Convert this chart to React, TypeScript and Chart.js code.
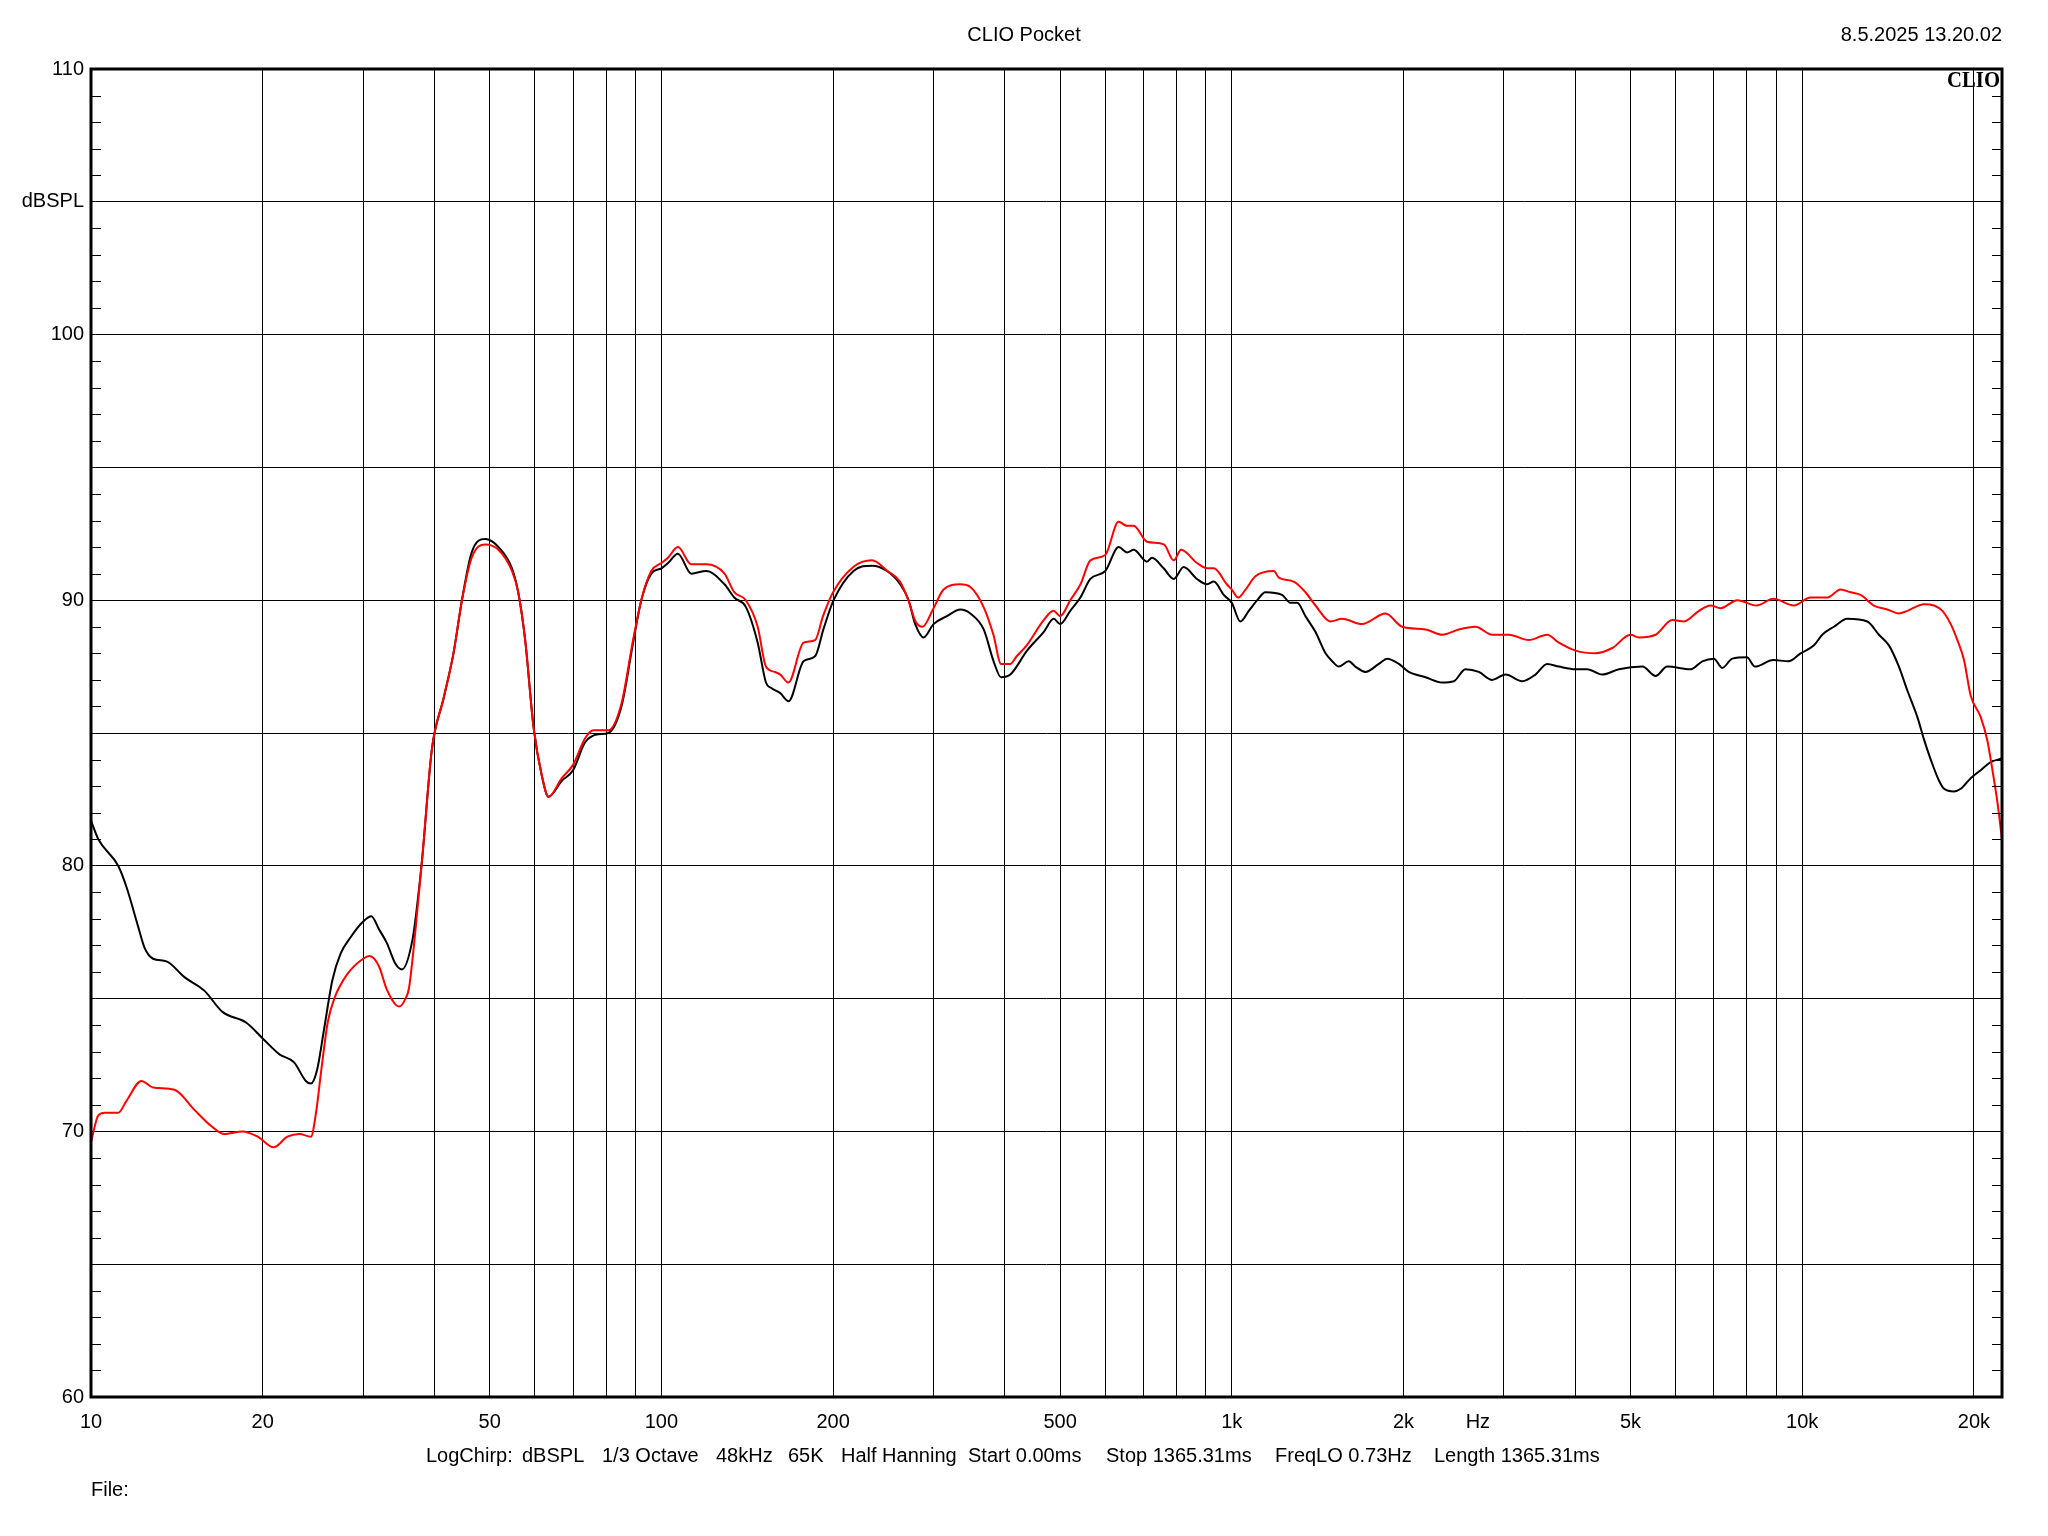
import React, { useEffect, useRef } from "react";
import { Chart, registerables } from "chart.js";

Chart.register(...registerables);

// ---------------- data ----------------
const BLACK_FREQ = [
  10, 10.3, 11.16, 11.54, 12.1, 12.42, 12.85, 13.56, 14.6, 15.8, 17.0, 18.7, 20, 21.4, 22.7, 23.8, 24.3, 24.9,
  25.6, 26.5, 27.4, 28.5, 30, 31.0, 32.0, 33.0, 34.2, 35.1, 36.6, 37.3, 38.1, 39.6, 41.5, 43.2, 44.7, 46.5,
  49.1, 51.8, 54.7, 56.1, 57.7, 59.7, 61.7, 63.4, 66.9, 70, 73.5, 77.5, 80.7, 85.1, 89.2, 92.2, 96, 100,
  102.7, 106.9, 112.8, 119.8, 129, 134.2, 140.6, 147.5, 152.5, 155.6, 161.6, 167.1, 177.5, 186.1, 192.3,
  200.4, 217.2, 234, 248.6, 262.2, 271.2, 278.6, 288.2, 300, 316.7, 334.2, 348, 367.3, 382.3, 393.9, 409,
  437.5, 467.8, 487.3, 500, 521, 542.7, 564.9, 600, 633.5, 655.3, 673, 710, 724.5, 759.5, 791, 823.5, 869,
  905, 930, 967.8, 1000, 1035, 1071, 1108, 1145, 1225, 1267, 1302, 1346, 1402, 1460, 1500, 1540, 1603,
  1647, 1715, 1810, 1873, 1963, 2043, 2185, 2338, 2451, 2568, 2710, 2861, 3019, 3229, 3407, 3572, 3745,
  4006, 4198, 4461, 4771, 5245, 5534, 5800, 6374, 6682, 7000, 7240, 7541, 8000, 8263, 8899, 9454, 9935,
  10485, 10842, 11365, 11995, 13004, 13630, 14191, 14774, 15288, 15918, 16352, 16800, 17374, 17729, 18460,
  18964, 19743, 20558, 21404, 22440,
];
const BLACK_DB = [
  81.7, 81.0, 80.0, 79.2, 77.7, 76.9, 76.5, 76.4, 75.8, 75.3, 74.5, 74.1, 73.5, 72.9, 72.6, 71.9, 71.8, 72.3,
  73.8, 75.7, 76.7, 77.3, 77.9, 78.1, 77.6, 77.1, 76.3, 76.1, 77.2, 78.5, 80.35, 84.4, 86.3, 88.0, 90.0, 91.8,
  92.3, 92.0, 91.2, 90.3, 88.5, 85.2, 83.4, 82.6, 83.2, 83.6, 84.65, 84.95, 85.0, 86.0, 88.4, 90.0, 91.0, 91.2,
  91.4, 91.75, 91.0, 91.1, 90.6, 90.1, 89.75, 88.4, 86.9, 86.7, 86.5, 86.2, 87.7, 87.9, 88.9,
  90.0, 91.1, 91.3, 91.1, 90.6, 90.0, 89.1, 88.6, 89.1, 89.4, 89.65, 89.5, 88.9, 87.7, 87.1, 87.2,
  88.1, 88.8, 89.3, 89.1, 89.6, 90.1, 90.8, 91.1, 92.0, 91.8, 91.9, 91.45, 91.6, 91.2, 90.8, 91.25, 90.8,
  90.6, 90.7, 90.2, 89.9, 89.2, 89.6, 90.0, 90.3, 90.2, 89.9, 89.9, 89.4, 88.8, 88.0, 87.7, 87.5, 87.7,
  87.5, 87.3, 87.6, 87.8, 87.6, 87.3, 87.1, 86.9, 86.95, 87.4, 87.3, 87.0, 87.2, 86.95, 87.2, 87.6, 87.5,
  87.4, 87.4, 87.2, 87.4, 87.5, 87.15, 87.5, 87.4, 87.7, 87.8, 87.45, 87.8, 87.85, 87.5, 87.75, 87.7, 88.0,
  88.3, 88.7, 89.0, 89.3, 89.2, 88.7, 88.3, 87.5, 86.6, 85.6, 84.75, 84.0, 83.2, 82.9, 82.8,
  82.9, 83.3, 83.6, 83.9, 84.05,
];

const RED_FREQ = [
  10, 10.3, 10.58, 11.16, 11.54, 12.26, 12.85, 14.0, 15.2, 16.25, 17.1, 18.45, 19.6, 20.9, 22.1, 23.2, 24.3,
  24.8, 25.3, 26.0, 26.7, 28.1, 30, 30.8, 32.0, 33.0, 34.7, 35.6, 36.1, 37.1, 38.1, 39.6, 41.5, 43.2, 44.7,
  46.5, 49.1, 51.8, 54.7, 56.1, 57.7, 59.7, 61.7, 63.4, 66.9, 70, 73.5, 76, 80.7, 85.1, 89.2, 92.2, 96, 100,
  102.7, 106.9, 112.8, 119.8, 129, 134.2, 140.6, 147.5, 152.5, 158, 161.6, 167, 177.5, 186, 192, 200, 217,
  234, 249, 262, 271, 279, 287, 300, 312.4, 334, 348, 367, 382, 394, 409, 420, 437, 468, 487, 500, 521, 543,
  565, 600, 633, 655, 673, 710, 760, 791, 815, 869, 905, 930, 980, 1000, 1026, 1057, 1100, 1185, 1209, 1284,
  1346, 1402, 1489, 1561, 1692, 1860, 1989, 2185, 2338, 2500, 2674, 2861, 3060, 3316, 3572, 3745, 4006,
  4341, 4645, 5000, 5174, 5534, 5918, 6204, 6592, 6908, 7195, 7694, 8318, 8899, 9668, 10342, 11066, 11676,
  12154, 12656, 13357, 14099, 14774, 15288, 16352, 17022, 17609, 18213, 18706, 19214, 19743, 20558, 21121,
  21553, 21988, 22400,
];
const RED_DB = [
  69.6, 70.6, 70.7, 70.7, 71.15, 71.9, 71.65, 71.57, 70.8, 70.2, 69.9, 70.0, 69.8, 69.4, 69.8, 69.9, 69.8,
  70.7, 72.2, 74.1, 75.0, 75.9, 76.5, 76.6, 76.2, 75.35, 74.7, 75.0, 75.4, 77.7, 80.35, 84.4, 86.3, 88.0, 90.0,
  91.6, 92.1, 91.9, 91.1, 90.3, 88.5, 85.2, 83.4, 82.6, 83.3, 83.8, 84.8, 85.1, 85.1, 86.1, 88.5, 90.0, 91.1, 91.4,
  91.6, 92.0, 91.35, 91.35, 91.0, 90.3, 90.0, 89.0, 87.5, 87.3, 87.2, 86.9, 88.4, 88.5, 89.4, 90.3, 91.25,
  91.5, 91.1, 90.7, 90.0, 89.2, 89.0, 89.7, 90.4, 90.6, 90.5, 89.75, 88.7, 87.6, 87.6, 87.9, 88.3, 89.25, 89.6, 89.4, 90.0, 90.6,
  91.5, 91.7, 92.95, 92.8, 92.8, 92.2, 92.1, 91.5, 91.9, 91.4, 91.2, 91.2, 90.6, 90.4, 90.1, 90.4, 90.9, 91.1, 90.85, 90.7,
  90.3, 89.8, 89.2, 89.3, 89.1, 89.5, 89.0, 88.9, 88.7, 88.9, 89.0, 88.7, 88.7, 88.5, 88.7, 88.4, 88.1,
  88.0, 88.2, 88.7, 88.6, 88.7, 89.25, 89.2, 89.6, 89.8, 89.7, 90.0, 89.8, 90.05, 89.8, 90.1, 90.1, 90.4,
  90.3, 90.2, 89.8, 89.65, 89.5, 89.6, 89.85, 89.8, 89.6, 89.1, 88.5, 87.75, 86.4, 85.6, 84.7,
  83.6, 82.4, 81.0,
];

// axes
const X_MIN = 10;
const X_MAX = 22400;
const Y_MIN = 60;
const Y_MAX = 110;
const X_GRID = [
  10, 20, 30, 40, 50, 60, 70, 80, 90, 100, 200, 300, 400, 500, 600, 700, 800, 900, 1000, 2000, 3000, 4000,
  5000, 6000, 7000, 8000, 9000, 10000, 20000,
];
const X_LABEL_VALUES = [10, 20, 50, 100, 200, 500, 1000, 2000, 2700, 5000, 10000, 20000];
const X_LABEL_TEXT = ["10", "20", "50", "100", "200", "500", "1k", "2k", "Hz", "5k", "10k", "20k"];
const HZ_POSITION = 2700;
const Y_GRID = [60, 65, 70, 75, 80, 85, 90, 95, 100, 105, 110];
const Y_LABEL_VALUES = [60, 70, 80, 90, 100, 105, 110];
const Y_LABEL_TEXT = ["60", "70", "80", "90", "100", "dBSPL", "110"];

const TITLE = "CLIO Pocket";
const DATE_TEXT = "8.5.2025 13.20.02";
const BRAND = "CLIO";
const INFO_SEGMENTS = [
  "LogChirp:",
  "dBSPL",
  "1/3 Octave",
  "48kHz",
  "65K",
  "Half Hanning",
  "Start 0.00ms",
  "Stop 1365.31ms",
  "FreqLO 0.73Hz",
  "Length 1365.31ms",
];
const INFO_X = [426, 522, 602, 716, 788, 841, 968, 1106, 1275, 1434];
const FILE_TEXT = "File:";

const FONT = "'Liberation Sans', Arial, sans-serif";

const toPoints = (fs: number[], ds: number[]) => fs.map((f, i) => ({ x: f, y: ds[i] }));

export default function App() {
  const ref = useRef<HTMLCanvasElement | null>(null);

  useEffect(() => {
    document.body.style.margin = "0";
    const canvas = ref.current;
    if (!canvas) return;

    const xLabelMap: Record<number, string> = {};
    X_LABEL_VALUES.forEach((v, i) => (xLabelMap[v] = X_LABEL_TEXT[i]));
    const yLabelMap: Record<number, string> = {};
    Y_LABEL_VALUES.forEach((v, i) => (yLabelMap[v] = Y_LABEL_TEXT[i]));

    const decor = {
      id: "decor",
      afterDatasetsDraw(chart: any) {
        const { ctx, chartArea, scales } = chart;
        const { left, right, top, bottom } = chartArea;
        ctx.save();
        // minor 1 dB ticks on both sides
        ctx.strokeStyle = "#000";
        ctx.lineWidth = 1;
        for (let v = Y_MIN; v <= Y_MAX; v++) {
          if (v % 5 === 0) continue;
          const y = Math.round(scales.y.getPixelForValue(v)) + 0.5;
          ctx.beginPath();
          ctx.moveTo(left, y);
          ctx.lineTo(left + 10, y);
          ctx.moveTo(right - 10, y);
          ctx.lineTo(right, y);
          ctx.stroke();
        }
        // frame
        ctx.lineWidth = 3;
        ctx.strokeRect(left, top, right - left, bottom - top);
        ctx.restore();
      },
      afterDraw(chart: any) {
        const { ctx, chartArea } = chart;
        ctx.save();
        ctx.fillStyle = "#000";
        ctx.font = `20px ${FONT}`;
        ctx.textBaseline = "middle";
        ctx.textAlign = "center";
        ctx.fillText(TITLE, 1024, 35);
        ctx.textAlign = "right";
        ctx.fillText(DATE_TEXT, chartArea.right, 35);
        ctx.textAlign = "left";
        INFO_SEGMENTS.forEach((s, i) => ctx.fillText(s, INFO_X[i], 1456));
        ctx.fillText(FILE_TEXT, chartArea.left, 1490);
        // brand mark, slightly condensed bold serif
        ctx.translate(chartArea.right - 2, chartArea.top + 18);
        ctx.scale(0.9, 1);
        ctx.font = `bold 23px 'Liberation Serif', 'DejaVu Serif', serif`;
        ctx.textAlign = "right";
        ctx.textBaseline = "alphabetic";
        ctx.fillText(BRAND, 0, 0);
        ctx.restore();
      },
    };

    const chart = new Chart(canvas, {
      type: "line",
      data: {
        datasets: [
          {
            label: "red",
            data: toPoints(RED_FREQ, RED_DB),
            borderColor: "#ff0000",
            borderWidth: 2,
            pointRadius: 0,
            cubicInterpolationMode: "monotone",
            fill: false,
          },
          {
            label: "black",
            data: toPoints(BLACK_FREQ, BLACK_DB),
            borderColor: "#000000",
            borderWidth: 2,
            pointRadius: 0,
            cubicInterpolationMode: "monotone",
            fill: false,
          },
        ],
      },
      options: {
        responsive: false,
        animation: false,
        devicePixelRatio: 1,
        layout: { padding: { top: 69, right: 46, left: 0, bottom: 0 } },
        plugins: {
          legend: { display: false },
          tooltip: { enabled: false },
          title: { display: false },
        },
        scales: {
          x: {
            type: "logarithmic",
            min: X_MIN,
            max: X_MAX,
            afterBuildTicks: (scale: any) => {
              scale.ticks = X_GRID.concat([HZ_POSITION])
                .sort((a, b) => a - b)
                .map((v) => ({ value: v }));
            },
            afterFit: (scale: any) => {
              scale.height = 139;
            },
            grid: {
              color: (c: any) => (c.tick && c.tick.value === HZ_POSITION ? "rgba(0,0,0,0)" : "#000"),
              lineWidth: 1,
              drawTicks: false,
            },
            border: { display: false },
            ticks: {
              autoSkip: false,
              maxRotation: 0,
              minRotation: 0,
              padding: 13,
              color: "#000",
              font: { family: FONT, size: 20 },
              callback: (v: any) => xLabelMap[Number(v)] ?? "",
            },
          },
          y: {
            type: "linear",
            min: Y_MIN,
            max: Y_MAX,
            afterBuildTicks: (scale: any) => {
              scale.ticks = Y_GRID.map((v) => ({ value: v }));
            },
            afterFit: (scale: any) => {
              scale.width = 91;
            },
            grid: { color: "#000", lineWidth: 1, drawTicks: false },
            border: { display: false },
            ticks: {
              padding: 7,
              color: "#000",
              font: { family: FONT, size: 20 },
              callback: (v: any) => yLabelMap[Number(v)] ?? "",
            },
          },
        },
      },
      plugins: [decor],
    } as any);

    return () => chart.destroy();
  }, []);

  return (
    <div style={{ width: 2048, height: 1536, background: "#fff" }}>
      <canvas ref={ref} width={2048} height={1536} style={{ display: "block" }} />
    </div>
  );
}
